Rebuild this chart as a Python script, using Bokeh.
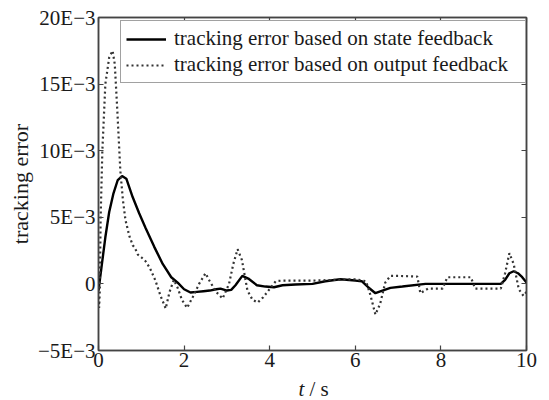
from bokeh.plotting import figure
from bokeh.models import (Range1d, FixedTicker, LinearAxis, Legend, LegendItem)
from bokeh.layouts import column
from bokeh.core.properties import value
from bokeh.embed import file_html
from bokeh.resources import INLINE

# ---- data (tracking error in units of 1E-3) ----
t_state = [0, 0.08, 0.16, 0.25, 0.35, 0.45, 0.55, 0.65, 0.8, 0.95, 1.1, 1.3, 1.5, 1.7, 1.85,
           2.0, 2.15, 2.3, 2.45, 2.6, 2.75, 2.85, 3.0, 3.1, 3.2, 3.36, 3.5, 3.7, 3.9, 4.1,
           4.3, 4.6, 5.0, 5.3, 5.65, 6.0, 6.15, 6.3, 6.47, 6.6, 6.82, 7.1, 7.64, 8.0, 8.5,
           9.0, 9.4, 9.5, 9.6, 9.7, 9.8, 9.9, 10.0]
err_state = [-0.5, 1.5, 3.5, 5.4, 6.8, 7.8, 8.1, 7.9, 6.5, 5.3, 4.2, 2.8, 1.5, 0.5, 0.1,
             -0.4, -0.65, -0.6, -0.55, -0.5, -0.4, -0.35, -0.5, -0.45, -0.1, 0.6, 0.4, -0.1, -0.2, -0.25,
             -0.1, -0.05, 0.0, 0.2, 0.35, 0.25, 0.2, -0.25, -0.7, -0.55, -0.3, -0.2, 0.0, 0.0, 0.0,
             0.0, 0.0, 0.3, 0.8, 0.95, 0.8, 0.5, 0.1]

t_output = [0, 0.015, 0.03, 0.05, 0.09, 0.16, 0.25, 0.33, 0.38, 0.44, 0.51, 0.57, 0.63, 0.72,
            0.8, 0.85, 0.92, 1.0, 1.1, 1.2, 1.33, 1.45, 1.57, 1.66, 1.76, 1.85, 1.95, 2.07,
            2.2, 2.35, 2.5, 2.6, 2.75, 2.9, 3.05, 3.15, 3.25, 3.35, 3.48, 3.6, 3.72, 3.85,
            3.97, 4.14, 4.3, 5.0, 5.5, 6.0, 6.25, 6.35, 6.47, 6.58, 6.7, 6.82, 7.0, 7.45,
            7.52, 7.7, 8.04, 8.15, 8.7, 8.8, 9.4, 9.5, 9.6, 9.7, 9.82, 9.93, 10.0]
err_output = [-1.0, -1.8, -0.5, 5.0, 10.0, 15.0, 17.0, 17.5, 16.5, 13.0, 8.5, 6.3, 4.8, 3.6,
              2.9, 2.7, 2.2, 2.0, 1.7, 1.2, 0.25, -0.9, -1.85, -0.6, 0.3, -0.3, -1.2, -1.8,
              -1.0, 0.0, 0.8, 0.2, -0.6, -1.1, 0.0, 1.5, 2.6, 1.8, -0.5, -1.2, -1.4, -1.0,
              -0.5, 0.2, 0.25, 0.25, 0.3, 0.35, 0.2, -0.8, -2.3, -1.5, 0.1, 0.6, 0.6, 0.55,
              -0.7, -0.35, -0.35, 0.5, 0.5, -0.35, -0.35, 0.8, 2.3, 1.5, -0.4, -0.9, -0.6]

x_ticks = [0, 2, 4, 6, 8, 10]
y_ticks = [-5, 0, 5, 10, 15, 20]
y_tick_labels = ["\u22125E\u22123", "0", "5E\u22123", "10E\u22123", "15E\u22123", "20E\u22123"]

series_names = ["tracking error based on state feedback",
                "tracking error based on output feedback"]
y_title = "tracking error"
x_title_var = "t"
x_title_unit = "/ s"

FONT = "Liberation Serif"
AX_COLOR = "#444444"
TXT = "#1a1a1a"

p = figure(width=549, height=376, output_backend="svg", toolbar_location=None,
           x_range=Range1d(0, 10), y_range=Range1d(-5, 20),
           min_border_left=98, min_border_right=23, min_border_top=17, min_border_bottom=26,
           x_axis_location=None, y_axis_location=None)
p.grid.visible = False
p.outline_line_color = AX_COLOR
p.outline_line_width = 1.5
p.background_fill_color = "white"
p.border_fill_color = "white"

def make_axis(ticks, show_labels, standoff=4):
    ax = LinearAxis(ticker=FixedTicker(ticks=ticks))
    ax.major_tick_in = 5
    ax.major_tick_out = 0
    ax.minor_tick_line_color = None
    ax.axis_line_color = AX_COLOR
    ax.axis_line_width = 1.5
    ax.major_tick_line_color = AX_COLOR
    ax.major_tick_line_width = 1.2
    ax.major_label_text_font = FONT
    ax.major_label_text_color = TXT
    ax.major_label_text_font_size = "21px" if show_labels else "0px"
    ax.major_label_standoff = standoff if show_labels else 0
    return ax

xb = make_axis(x_ticks, True, standoff=2)
yl = make_axis(y_ticks, True, standoff=3)
yl.major_label_overrides = {v: s for v, s in zip(y_ticks, y_tick_labels)}
yl.axis_label = y_title
yl.axis_label_text_font = FONT
yl.axis_label_text_font_style = "normal"
yl.axis_label_text_font_size = "22px"
yl.axis_label_text_color = TXT
yl.axis_label_standoff = 2
xt = make_axis(x_ticks, False)
yr = make_axis(y_ticks, False)
p.add_layout(xb, "below")
p.add_layout(yl, "left")
p.add_layout(xt, "above")
p.add_layout(yr, "right")

r1 = p.line(t_state, err_state, line_color="black", line_width=2.4)
r2 = p.line(t_output, err_output, line_color="#333333", line_width=2.2, line_dash="2 3")

legend = Legend(items=[LegendItem(label=series_names[0], renderers=[r1]),
                       LegendItem(label=series_names[1], renderers=[r2])],
                location=(22, 267))
legend.label_text_font = FONT
legend.label_text_font_size = "21px"
legend.label_text_color = TXT
legend.glyph_width = 40
legend.glyph_height = 22
legend.label_height = 22
legend.label_width = 346
legend.label_standoff = 8
legend.padding = 5
legend.spacing = 1
legend.margin = 0
legend.border_line_color = AX_COLOR
legend.border_line_width = 1.5
legend.background_fill_alpha = 1.0
p.add_layout(legend, "center")

# x-axis title strip below the plot (same horizontal geometry as the main plot)
q = figure(width=549, height=24, output_backend="svg", toolbar_location=None,
           x_range=Range1d(0, 10), y_range=Range1d(0, 24),
           min_border_left=98, min_border_right=23, min_border_top=0, min_border_bottom=0,
           x_axis_location=None, y_axis_location=None)
q.grid.visible = False
q.outline_line_color = None
q.background_fill_color = "white"
q.border_fill_color = "white"
q.text(x=[4.67], y=[12], text=[x_title_var], text_font=value(FONT), text_font_style="italic",
       text_font_size="21px", text_color=TXT, text_baseline="middle", text_align="left")
q.text(x=[4.93], y=[12], text=[x_title_unit], text_font=value(FONT),
       text_font_size="21px", text_color=TXT, text_baseline="middle", text_align="left")

layout = column(p, q, spacing=0)
open("out.html", "w").write(file_html(layout, INLINE))
